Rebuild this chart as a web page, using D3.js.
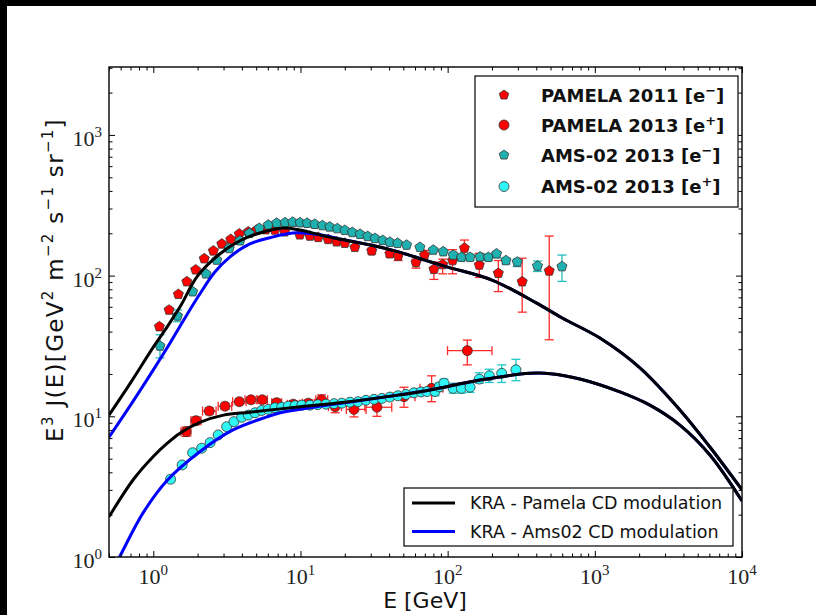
<!DOCTYPE html>
<html><head><meta charset="utf-8">
<script src="https://cdn.jsdelivr.net/npm/d3@7"></script>
<style>html,body{margin:0;padding:0;background:#fff}svg{display:block}</style>
</head><body>
<script>
// ---------- DATA ----------
// PAMELA 2011 electrons (pentagons, red)
const pamElE  = [1.10,1.28,1.48,1.69,1.94,2.22,2.56,2.92,3.36,3.84,4.42,5.04,5.8,6.7,7.8,9.9,11.6,13.2,15.4,17.6,20.0,23.4,30.5,40.5,46.1,60.9,69.6,80.7,92.5,108,130,164,221,321,490];
const pamElF  = [43.4,57,73.7,90.6,110,132,150,168,181,198,205,211,212,211,205,195,191,187,181,174,170,159,150,143,138,124,140,111,120,128,157,119,104,90.6,108];
const pamElLo = [null,null,null,null,null,null,null,null,null,null,null,null,null,null,null,null,null,null,null,null,null,null,143,136,128,113,128,94,103,103,139,97,77,55,35];
const pamElHi = [null,null,null,null,null,null,null,null,null,null,null,null,null,null,null,null,null,null,null,null,null,null,157,150,144,131,151,125,131,153,179,144,128,133,191];
// PAMELA 2013 positrons (circles, red)
const pamPoE  = [1.67,1.95,2.40,3.07,3.84,4.61,5.50,6.89,8.93,11.3,13.9,17.2,23.1,33.1,50.5,77.8,136];
const pamPoF  = [7.78,9.31,10.9,11.8,12.7,13.1,13.1,12.5,12.2,12.4,13.1,11.7,11.2,11.6,13.8,15.8,29.3];
const pamPoLo = [7.2,8.7,10.3,11.2,12.1,12.4,12.4,11.8,11.5,11.7,12.0,10.6,9.9,10.0,11.6,12.7,23.2];
const pamPoHi = [8.4,9.9,11.5,12.4,13.3,13.8,13.8,13.2,12.9,13.1,14.2,12.8,12.5,12.7,16.1,19.4,34.8];
const pamPoEl = [1.54,1.80,2.16,2.76,3.46,4.20,5.08,6.37,8.13,10.3,12.7,15.5,20.5,27.4,42.5,64.9,99.8];
const pamPoEh = [1.80,2.11,2.67,3.41,4.27,5.05,5.96,7.45,9.84,12.4,15.3,19.0,27.9,41.7,60.0,92.6,200];
// AMS-02 2013 electrons (pentagons, teal)
const amsElE  = [1.11,1.46,1.85,2.28,2.70,3.28,3.88,4.49,5.25,6.04,6.89,7.85,8.85,9.93,11.1,12.5,14.1,15.8,17.8,20.0,22.5,25.4,28.6,32.1,36.2,40.5,45.7,52.6,64.8,79.9,93.3,109,124,142,166,189,215,249,297,408,598];
const amsElF  = [31.6,51.7,76.9,103,129,156,177,200,217,229,236,238,240,238,236,232,227,222,216,210,203,197,190,184,178,173,170,165,159,152,148,140,135,135,136,135,143,128,125,117,116];
const amsElLo = [26,47,null,null,null,null,null,null,null,null,null,null,null,null,null,null,null,null,null,null,null,null,null,null,null,null,null,null,null,null,null,133,128,128,129,128,134,121,116,107,91];
const amsElHi = [38,57,null,null,null,null,null,null,null,null,null,null,null,null,null,null,null,null,null,null,null,null,null,null,null,null,null,null,null,null,null,147,142,142,143,142,148,133,131,127,140];
// AMS-02 2013 positrons (circles, cyan)
const amsPoE  = [1.31,1.57,1.85,2.13,2.43,2.76,3.15,3.53,3.99,4.42,4.91,5.45,6.04,6.71,7.45,8.26,9.18,10.2,11.6,13.1,14.9,16.9,19.1,21.7,24.6,27.8,31.6,35.8,40.5,45.9,52.1,59.0,65.9,72.3,82.0,87.7,94.4,109,124,142,164,192,233,291];
const amsPoF  = [3.57,4.51,5.51,5.93,6.50,7.37,8.44,9.16,9.84,10.2,10.6,11.0,11.2,11.5,11.6,11.8,11.9,12.0,12.0,12.1,12.2,12.3,12.4,12.6,12.7,13.0,13.2,13.4,13.7,14.0,14.3,14.7,14.9,15.0,15.0,16.2,17.2,15.8,15.8,16.1,18.4,19.4,20.2,21.4];
const amsPoLo = [3.4,4.3,5.3,5.7,null,null,null,null,null,null,null,null,null,null,null,null,null,null,null,null,null,null,null,null,null,null,null,null,null,null,null,null,null,null,14.0,15.1,16.1,14.6,14.6,14.8,17.2,17.4,17.4,17.9];
const amsPoHi = [3.75,4.7,5.75,6.2,null,null,null,null,null,null,null,null,null,null,null,null,null,null,null,null,null,null,null,null,null,null,null,null,null,null,null,null,null,null,16.1,17.3,18.4,17.2,17.2,17.6,20.4,21.6,23.2,25.4];
// Model curves
const kraPamElE = [0.5,0.7,1.0,1.2,1.52,2.0,2.84,3.88,5.3,7.6,9.9,15,20,30,47,70,100,200,400,600,1083,2025,3785,6054,10000];
const kraPamElF = [10.2,17.3,31,41,60,99.5,143,177,201,218,211,190,179,165,147,129,115,93,64,50,36,22.1,11.1,6.05,3.0];
const kraAmsElE = [0.5,0.7,1.0,1.3,1.64,2.07,2.62,3.32,4.53,6.2,8.9,13.5,20,30,47,70,100,200,400,600,1083,2025,3785,6054,10000];
const kraAmsElF = [7.1,12.0,21.4,33.2,50,74,106,136,168,186,201,195,179,165,147,129,115,93,64,50,36,22.1,11.1,6.05,3.0];
const kraPamPoE = [0.5,0.73,1.0,1.24,1.5,2.07,3.0,4.54,10,20,47,76,166,362,500,792,1480,2366,3785,6054,10000];
const kraPamPoF = [1.93,3.54,5.18,6.41,7.53,9.05,10.2,10.7,11.7,12.6,14.2,15.4,18.1,20.2,20.1,18.4,14.9,12.0,8.66,5.31,2.5];
const kraAmsPoE = [0.5,0.59,0.85,1.24,2.07,3.48,5.9,7.3,12.9,20,47,76,166,362,500,792,1480,2366,3785,6054,10000];
const kraAmsPoF = [0.72,1.0,2.05,3.5,5.6,8.0,9.9,10.6,11.7,12.5,14.2,15.4,18.1,20.2,20.1,18.4,14.9,12.0,8.66,5.31,2.5];
// Axis ticks
const xMajor = [1,10,100,1000,10000];
const xMajorExp = ["0","1","2","3","4"];
const yMajor = [1,10,100,1000];
const yMajorExp = ["0","1","2","3"];
const legendMarkers = ["PAMELA 2011 [e|−]","PAMELA 2013 [e|+]","AMS-02 2013 [e|−]","AMS-02 2013 [e|+]"];
const legendLines = ["KRA - Pamela CD modulation","KRA - Ams02 CD modulation"];

// ---------- DRAW ----------
const W=816,H=615;
const L=109,R=742,T=67,B=557;
const svg=d3.select("body").append("svg").attr("width",W).attr("height",H);
svg.append("rect").attr("width",W).attr("height",H).attr("fill","#fff");
svg.append("rect").attr("x",0).attr("y",0).attr("width",W).attr("height",6).attr("fill","#000");
svg.append("rect").attr("x",0).attr("y",0).attr("width",7).attr("height",H).attr("fill","#000");

const x=d3.scaleLog().domain([0.5,1e4]).range([L,R]);
const y=d3.scaleLog().domain([1,3040]).range([B,T]);

svg.append("clipPath").attr("id","clip").append("rect").attr("x",L).attr("y",T).attr("width",R-L).attr("height",B-T);
const plot=svg.append("g").attr("clip-path","url(#clip)");

function minors(dom){const out=[];for(let k=-1;k<=4;k++){for(let d=2;d<=9;d++){const v=d*Math.pow(10,k);if(v>=dom[0]*0.999&&v<=dom[1]*1.001)out.push(v);}}return out;}
const xMin=minors(x.domain()), yMin=minors(y.domain());

function pent(r){const p=[];for(let i=0;i<5;i++){const a=-Math.PI/2+i*2*Math.PI/5;p.push([r*Math.cos(a),r*Math.sin(a)]);}return "M"+p.map(q=>q.join(",")).join("L")+"Z";}

function errV(g,E,lo,hi,color){
  E.forEach((e,i)=>{ if(lo[i]==null) return;
    const px=x(e);
    g.append("line").attr("x1",px).attr("x2",px).attr("y1",y(lo[i])).attr("y2",y(hi[i])).attr("stroke",color).attr("stroke-width",1.3);
    [lo[i],hi[i]].forEach(v=>g.append("line").attr("x1",px-4.5).attr("x2",px+4.5).attr("y1",y(v)).attr("y2",y(v)).attr("stroke",color).attr("stroke-width",1.3));
  });
}
function errH(g,F,el,eh,color){
  F.forEach((f,i)=>{const py=y(f);
    g.append("line").attr("x1",x(el[i])).attr("x2",x(eh[i])).attr("y1",py).attr("y2",py).attr("stroke",color).attr("stroke-width",1.3);
    [el[i],eh[i]].forEach(v=>g.append("line").attr("x1",x(v)).attr("x2",x(v)).attr("y1",py-4.5).attr("y2",py+4.5).attr("stroke",color).attr("stroke-width",1.3));
  });
}
const RED="#ff0000", TEAL="#1fb0b0", CYAN="#2ff5f5";
const gd=plot.append("g");
errV(gd,amsElE,amsElLo,amsElHi,"#22bcbc");
errV(gd,amsPoE,amsPoLo,amsPoHi,"#22c8c8");
errV(gd,pamElE,pamElLo,pamElHi,"#ff2a2a");
errH(gd,pamPoF,pamPoEl,pamPoEh,"#ff2a2a");
errV(gd,pamPoE,pamPoLo,pamPoHi,"#ff2a2a");
function pents(E,F,fill){E.forEach((e,i)=>gd.append("path").attr("d",pent(5.3)).attr("transform",`translate(${x(e)},${y(F[i])})`).attr("fill",fill).attr("stroke","#333").attr("stroke-width",0.8));}
function circs(E,F,fill){E.forEach((e,i)=>gd.append("circle").attr("cx",x(e)).attr("cy",y(F[i])).attr("r",5).attr("fill",fill).attr("stroke","#333").attr("stroke-width",0.8));}
pents(pamElE,pamElF,RED);
pents(amsElE,amsElF,TEAL);
circs(pamPoE,pamPoF,RED);
circs(amsPoE,amsPoF,CYAN);

const line=d3.line().curve(d3.curveCatmullRom.alpha(0.5));
function curve(E,F,color){plot.append("path").attr("d",line(E.map((e,i)=>[x(e),y(F[i])]))).attr("fill","none").attr("stroke",color).attr("stroke-width",3);}
curve(kraAmsElE,kraAmsElF,"#0000ff");
curve(kraAmsPoE,kraAmsPoF,"#0000ff");
curve(kraPamElE,kraPamElF,"#000");
curve(kraPamPoE,kraPamPoF,"#000");

function tickAxis(axisFn,scale,vals,len,tr){
  svg.append("g").attr("transform",tr).call(axisFn(scale).tickValues(vals).tickSizeInner(-len).tickSizeOuter(0).tickFormat(""))
    .call(g=>{g.select(".domain").remove();g.selectAll("line").attr("stroke","#000").attr("stroke-width",1);});
}
tickAxis(d3.axisBottom,x,xMajor,6,`translate(0,${B})`);
tickAxis(d3.axisBottom,x,xMin,3.5,`translate(0,${B})`);
tickAxis(d3.axisTop,x,xMajor,6,`translate(0,${T})`);
tickAxis(d3.axisTop,x,xMin,3.5,`translate(0,${T})`);
tickAxis(d3.axisLeft,y,yMajor,6,`translate(${L},0)`);
tickAxis(d3.axisLeft,y,yMin,3.5,`translate(${L},0)`);
tickAxis(d3.axisRight,y,yMajor,6,`translate(${R},0)`);
tickAxis(d3.axisRight,y,yMin,3.5,`translate(${R},0)`);
svg.append("rect").attr("x",L).attr("y",T).attr("width",R-L).attr("height",B-T).attr("fill","none").attr("stroke","#000").attr("stroke-width",1.4);

const SERIF="'Liberation Serif','DejaVu Serif',serif";
xMajor.forEach((v,i)=>{
  const t=svg.append("text").attr("x",x(v)).attr("y",584).attr("text-anchor","middle").attr("font-family",SERIF).attr("font-size",22).attr("fill","#222");
  t.append("tspan").text("10");
  t.append("tspan").attr("font-size",15).attr("dy",-9).text(xMajorExp[i]);
});
yMajor.forEach((v,i)=>{
  const t=svg.append("text").attr("x",102).attr("y",y(v)+11).attr("text-anchor","end").attr("font-family",SERIF).attr("font-size",22).attr("fill","#222");
  t.append("tspan").text("10");
  t.append("tspan").attr("font-size",15).attr("dy",-9).text(yMajorExp[i]);
});

const SANS="'DejaVu Sans',sans-serif";
svg.append("text").attr("x",425).attr("y",608).attr("text-anchor","middle").attr("font-family",SANS).attr("font-size",22).attr("fill","#111").text("E [GeV]");
const yl=svg.append("text").attr("transform","translate(63,280) rotate(-90)").attr("text-anchor","middle").attr("font-family",SANS).attr("font-size",23).attr("letter-spacing",1.3).attr("fill","#111");
function sup(t,s){t.append("tspan").attr("font-size",15).attr("dy",-10).text(s);}
function base(t,s){t.append("tspan").attr("dy",10).text(s);}
yl.append("tspan").text("E"); sup(yl,"3"); base(yl," J(E)[GeV"); sup(yl,"2"); base(yl," m"); sup(yl,"−2"); base(yl," s"); sup(yl,"−1"); base(yl," sr"); sup(yl,"−1"); base(yl,"]");

const lg=svg.append("g");
lg.append("rect").attr("x",475).attr("y",76).attr("width",263).attr("height",131).attr("fill","#fff").attr("stroke","#000").attr("stroke-width",1.2);
const rows=[95,125,155,186.5];
const mk=[["p",RED],["c",RED],["p",TEAL],["c",CYAN]];
legendMarkers.forEach((s,i)=>{
  const [k,c]=mk[i];
  if(k==="p") lg.append("path").attr("d",pent(5)).attr("transform",`translate(504,${rows[i]})`).attr("fill",c).attr("stroke","#333").attr("stroke-width",0.8);
  else lg.append("circle").attr("cx",504).attr("cy",rows[i]).attr("r",5).attr("fill",c).attr("stroke","#333").attr("stroke-width",0.8);
  const parts=s.split("|");
  const t=lg.append("text").attr("x",541).attr("y",rows[i]+6.5).attr("font-family",SANS).attr("font-weight","bold").attr("font-size",18).attr("fill","#111");
  t.append("tspan").text(parts[0]);
  const sp=parts[1];
  t.append("tspan").attr("font-size",13).attr("dy",-7).text(sp[0]);
  t.append("tspan").attr("dy",7).text(sp.slice(1));
});
lg.append("rect").attr("x",404).attr("y",488).attr("width",329).attr("height",58).attr("fill","#fff").attr("stroke","#000").attr("stroke-width",1.2);
const lc=["#000","#0000ff"], lr=[503,531.5];
legendLines.forEach((s,i)=>{
  lg.append("line").attr("x1",412).attr("x2",455).attr("y1",lr[i]).attr("y2",lr[i]).attr("stroke",lc[i]).attr("stroke-width",3);
  lg.append("text").attr("x",470).attr("y",lr[i]+6).attr("font-family",SANS).attr("font-size",17.5).attr("fill","#111").text(s);
});
</script>
</body></html>
